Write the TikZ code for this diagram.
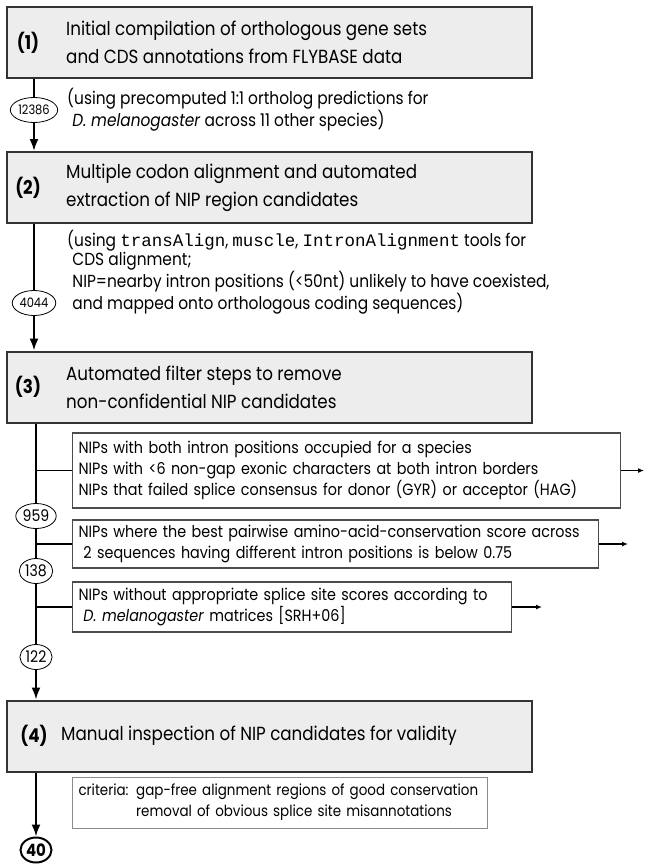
\documentclass[tikz,border=0pt]{standalone}
\usepackage{fontspec}
\setmainfont{Poppins}[FakeStretch=0.88]
\setmonofont{Liberation Mono}
\usetikzlibrary{shapes.geometric, arrows.meta}

\tikzstyle{stagebox} = [draw=black!80, fill=black!7, line width=2pt, minimum width=525pt, minimum height=71pt, inner sep=0pt]
\tikzstyle{stagenum} = [font=\fontsize{19}{19}\selectfont\bfseries, inner sep=0pt]
\tikzstyle{stagetext} = [font=\fontsize{19}{28}\selectfont, align=left, anchor=west, inner sep=0pt]
\tikzstyle{note} = [font=\fontsize{17.5}{19.5}\selectfont, align=left, anchor=west, inner sep=0pt]
\tikzstyle{count} = [draw, ellipse, line width=0.8pt, fill=white, inner sep=1pt, minimum height=25pt, font=\fontsize{16}{16}\selectfont]
\tikzstyle{filter} = [draw=black!70, line width=1.2pt, fill=white, align=left, anchor=west, inner xsep=6pt, font=\fontsize{16.3}{21}\selectfont]
\tikzstyle{main} = [draw, line width=2pt]
\tikzstyle{mainarrow} = [main, -{Latex[length=12pt, width=9pt]}]
\tikzstyle{side} = [draw, line width=1.2pt]
\tikzstyle{sidearrow} = [side, -{Latex[length=6pt, width=5pt]}]
\newcommand{\stage}[4]{
  node (s#1) [stagebox] {}
  node (n#1) [stagenum] at ([xshift=#3pt]s#1.west) {(#1)}
  node (t#1) [stagetext] at ([xshift=#4pt]s#1.west) {#2}}

\begin{document}
\begin{tikzpicture}[x=1pt, y=-1pt]
		\useasboundingbox (0,0) rectangle (645,867);

		% Draw the four stages
		\path (269.5,42.5) \stage{1}{Initial compilation of orthologous gene sets\\and CDS annotations from FLYBASE data}{22}{60};
		\path (269.5,187.5) \stage{2}{Multiple codon alignment and automated\\extraction of NIP region candidates}{22}{60};
		\path (269.5,387) \stage{3}{Automated filter steps to remove\\non-confidential NIP candidates}{22}{60};
		\path (269.5,736) \stage{4}{Manual inspection of NIP candidates for validity}{28}{55};

		% Notes beside the main line
		\node (a1) [note] at (67,110) {(using precomputed 1:1 ortholog predictions for\\\hspace{0.3em}\textit{D. melanogaster} across 11 other species)};
		\node (a2) [note] at (67,272) {(using \texttt{transAlign}, \texttt{muscle}, \texttt{IntronAlignment} tools for\\\hspace{0.3em}CDS alignment;\\\hspace{0.3em}NIP=nearby intron positions (<50nt) unlikely to have coexisted,\\\hspace{0.3em}and mapped onto orthologous coding sequences)};

		% Filter boxes
		\node (f1) [filter, text width=536pt, minimum height=75pt] at (72,470.5) {NIPs with both intron positions occupied for a species\\NIPs with <6 non-gap exonic characters at both intron borders\\NIPs that failed splice consensus for donor (GYR) or acceptor (HAG)};
		\node (f2) [filter, text width=514pt, minimum height=48pt] at (72,544) {NIPs where the best pairwise amino-acid-conservation score across\\\hspace{0.3em}2 sequences having different intron positions is below 0.75};
		\node (f3) [filter, text width=427pt, minimum height=50pt] at (72,607) {NIPs without appropriate splice site scores according to\\\hspace{0.3em}\textit{D. melanogaster} matrices [SRH+06]};
		\node (f4) [filter, draw=black!45, line width=1pt, text width=403pt, minimum height=51pt, font=\fontsize{15.3}{21}\selectfont] at (72,802.5) {criteria: gap-free alignment regions of good conservation\\\phantom{criteria: }removal of obvious splice site misannotations};

		% Counts
		\node (c1) [count, font=\fontsize{13}{13}\selectfont] at (34,110) {12386};
		\node (c2) [count, font=\fontsize{13}{13}\selectfont] at (34,303) {4044};
		\node (c3) [count] at (36,516) {959};
		\node (c4) [count] at (36,571) {138};
		\node (c5) [count] at (36,657) {122};
		\node (c6) [count, line width=2pt, font=\fontsize{17}{17}\selectfont\bfseries] at (36,850) {40};

		% Draw the main line
		\draw[main] (c1 |- s1.south) -- (c1);
		\draw[mainarrow] (c1) -- (c1 |- s2.north);
		\draw[main] (c2 |- s2.south) -- (c2);
		\draw[mainarrow] (c2) -- (c2 |- s3.north);
		\draw[main] (c3 |- s3.south) -- (c3);
		\draw[main] (c3) -- (c4);
		\draw[main] (c4) -- (c5);
		\draw[mainarrow] (c5) -- (c5 |- s4.north);
		\draw[mainarrow] (c6 |- s4.south) -- (c6);

		% Draw the branches to the filters
		\coordinate (o1) at (644,470.5);
		\coordinate (o2) at (628,544);
		\coordinate (o3) at (542,607);
		\draw[side] (f1.west) -- (f1.west -| c3);
		\draw[side] (f2.west) -- (f2.west -| c3);
		\draw[side] (f3.west) -- (f3.west -| c3);
		\draw[sidearrow] (f1.east) -- (o1);
		\draw[sidearrow] (f2.east) -- (o2);
		\draw[sidearrow] (f3.east) -- (o3);

	\end{tikzpicture}
\end{document}
